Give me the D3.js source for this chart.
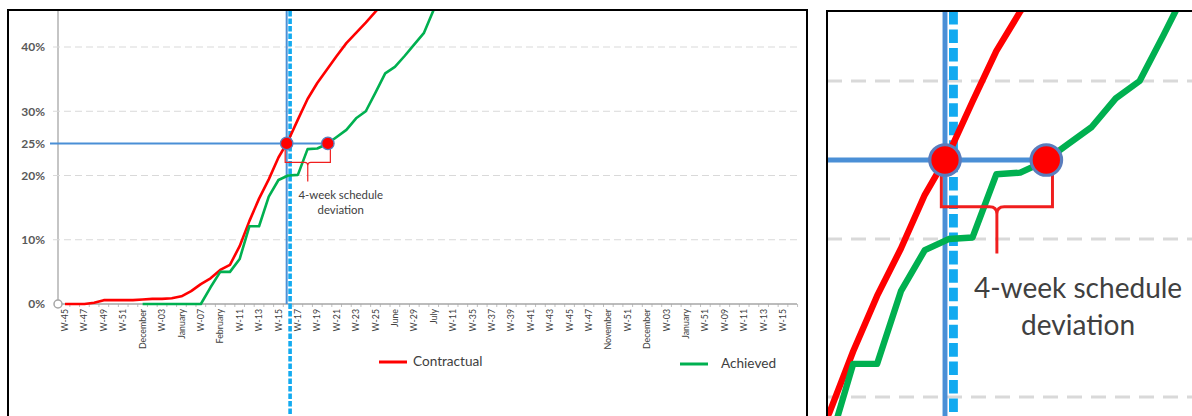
<!DOCTYPE html>
<html>
<head>
<meta charset="utf-8">
<script src="https://cdn.jsdelivr.net/npm/d3@7"></script>
<style>
  html, body { margin: 0; padding: 0; background: #fff; }
  svg { display: block; }
  text { font-family: Lato, "Open Sans", sans-serif; }
</style>
</head>
<body>
<svg id="chart" width="1192" height="416"></svg>
<script>
// Category axis: one label every second week
const weekLabels = ["W-45","W-47","W-49","W-51","December","W-03","January","W-07","February",
  "W-11","W-13","W-15","W-17","W-19","W-21","W-23","W-25","June","W-29","July","W-11","W-35",
  "W-37","W-39","W-41","W-43","W-45","W-47","November","W-51","December","W-03","January",
  "W-51","W-09","W-11","W-13","W-15"];

// Cumulative progress (%), one value per week from week index 0
const contractual = [0,0,0,0.2,0.6,0.6,0.6,0.6,0.7,0.8,0.8,0.9,1.2,2.0,3.1,4.0,5.3,6.1,9.0,
  12.9,16.4,19.4,22.8,25.4,28.7,31.9,34.4,36.5,38.6,40.6,42.2,43.8,45.5,47.2];

// Achieved progress is reported from week index 8 onwards
const achievedFirstWeek = 8;
const achieved = [0,0,0,0,0,0,0,2.6,5.0,5.0,7.0,12.1,12.1,16.7,19.3,20.0,20.1,24.1,24.2,24.9,
  26.0,27.1,28.9,30.0,32.9,35.9,36.9,38.6,40.4,42.2,45.8,49.0];

// Value axis
const yTicks = [0, 10, 20, 25, 30, 40];
const gridLevels = [10, 20, 30, 40];
const targetLevel = 25;      // progress level compared between the two curves
const statusWeek = 23.2;     // status date

const seriesRed = contractual.map((v, i) => ({ week: i, value: v }));
const seriesGreen = achieved.map((v, i) => ({ week: achievedFirstWeek + i, value: v }));

// Week (fractional) where a series first reaches a level
function crossing(series, level) {
  for (let i = 0; i < series.length - 1; i++) {
    const a = series[i], b = series[i + 1];
    if (a.value < level && b.value >= level) {
      return a.week + (level - a.value) / (b.value - a.value) * (b.week - a.week);
    }
  }
  return null;
}
const redCross = crossing(seriesRed, targetLevel);
const greenCross = crossing(seriesGreen, targetLevel);
const deviationWeeks = Math.round(greenCross - redCross);

const svg = d3.select("#chart");
const defs = svg.append("defs");

// ---------- main chart ----------
const plot = { left: 58, right: 797, top: 11, bottom: 304 };
const x = d3.scaleLinear().domain([0, (weekLabels.length - 1) * 2]).range([65, 783]);
const y = d3.scaleLinear().domain([0, 40]).range([plot.bottom, 47]);

defs.append("clipPath").attr("id", "clipMain").append("rect")
  .attr("x", plot.left).attr("y", plot.top)
  .attr("width", plot.right - plot.left).attr("height", 416 - plot.top);

const main = svg.append("g");

// panel frame
main.append("rect").attr("x", 8).attr("y", 10).attr("width", 799).attr("height", 430)
  .attr("fill", "#fff").attr("stroke", "#000").attr("stroke-width", 2);

// y axis labels
main.selectAll(".ylab").data(yTicks).join("text")
  .attr("x", 45).attr("y", d => y(d)).attr("dy", "0.36em")
  .attr("text-anchor", "end").attr("font-size", 12).attr("font-weight", "bold")
  .attr("fill", "#595959").text(d => d + "%");

// axes lines
main.append("line").attr("x1", plot.left).attr("x2", plot.left)
  .attr("y1", plot.top).attr("y2", plot.bottom).attr("stroke", "#a6a6a6").attr("stroke-width", 1.3);

const xAxis = main.append("g");
xAxis.selectAll(".tick").data(d3.range(0, (weekLabels.length - 1) * 2 + 2)).join("line")
  .attr("x1", d => x(d + 0.5)).attr("x2", d => x(d + 0.5))
  .attr("y1", plot.bottom).attr("y2", plot.bottom + 3)
  .attr("stroke", "#bfbfbf").attr("stroke-width", 1);
xAxis.append("line").attr("x1", plot.left).attr("x2", plot.right)
  .attr("y1", plot.bottom).attr("y2", plot.bottom).attr("stroke", "#a6a6a6").attr("stroke-width", 1.6);
xAxis.selectAll(".xlab").data(weekLabels).join("text")
  .attr("transform", (d, i) => `translate(${x(i * 2)},${plot.bottom + 5}) rotate(-90)`)
  .attr("dy", "0.35em").attr("text-anchor", "end")
  .attr("font-size", 8.8).attr("fill", "#404040").text(d => d);

// ---------- shared drawing of the progress curves and the deviation markup ----------
function drawLayer(g, xs, ys, k, box, clipId) {
  // dashed gridlines
  g.selectAll(".grid").data(gridLevels).join("line")
    .attr("x1", box.gridLeft).attr("x2", box.right)
    .attr("y1", d => ys(d)).attr("y2", d => ys(d))
    .attr("stroke", "#d9d9d9").attr("stroke-width", 1.2 * k)
    .attr("stroke-dasharray", k > 1 ? "15,9" : "7,4");

  // level line and its projection
  g.append("line").attr("x1", box.hLeft).attr("x2", xs(greenCross))
    .attr("y1", ys(targetLevel)).attr("y2", ys(targetLevel))
    .attr("stroke", "#4a8fd6").attr("stroke-width", 2 * k);
  g.append("line").attr("x1", xs(redCross)).attr("x2", xs(redCross))
    .attr("y1", box.top).attr("y2", box.vBottom)
    .attr("stroke", "#4a8fd6").attr("stroke-width", 2 * k);

  // status date
  g.append("line").attr("x1", xs(statusWeek)).attr("x2", xs(statusWeek))
    .attr("y1", box.top).attr("y2", box.bottom)
    .attr("stroke", "#12aaf0").attr("stroke-width", 3.6 * k)
    .attr("stroke-dasharray", `${5.5 * k},${2 * k}`);

  // curves
  const line = d3.line().x(d => xs(d.week)).y(d => ys(d.value));
  const curves = g.append("g").attr("clip-path", `url(#${clipId})`);
  curves.append("path").datum(seriesRed).attr("d", line)
    .attr("fill", "none").attr("stroke", "#ff0000").attr("stroke-width", 2.6 * k)
    .attr("stroke-linejoin", "round");
  curves.append("path").datum(seriesGreen).attr("d", line)
    .attr("fill", "none").attr("stroke", "#00b050").attr("stroke-width", 2.6 * k)
    .attr("stroke-linejoin", "round");

  // deviation brace
  const bx1 = xs(redCross) - 1.5 * k, bx2 = xs(greenCross) + 2.5 * k;
  const yTop = ys(targetLevel) + 3 * k, yBar = ys(targetLevel) + 19 * k, yTip = yBar + 19 * k;
  const cx = (bx1 + bx2) / 2, c = 3 * k;
  g.append("path")
    .attr("d", `M${bx1},${yTop}V${yBar}H${cx - c}Q${cx},${yBar} ${cx},${yBar + c}V${yTip}` +
               `M${bx2},${yTop}V${yBar}H${cx + c}Q${cx},${yBar} ${cx},${yBar + c}`)
    .attr("fill", "none").attr("stroke", "#f01e1e").attr("stroke-width", 1.2 * k);

  // points where each curve reaches the level
  g.selectAll(".dot").data([redCross, greenCross]).join("circle")
    .attr("cx", d => xs(d)).attr("cy", ys(targetLevel)).attr("r", 6.2 * k)
    .attr("fill", "#ff0000").attr("stroke", "#5a7dbd").attr("stroke-width", 1.3 * k);

  // annotation
  const t = g.append("text").attr("text-anchor", "middle")
    .attr("font-size", 11.4 * k).attr("fill", "#404040");
  t.append("tspan").attr("x", cx + 33 * k).attr("y", yTip + 14 * k).attr("dy", "0.35em")
    .text(`${deviationWeeks}-week schedule`);
  t.append("tspan").attr("x", cx + 33 * k).attr("y", yTip + 29 * k).attr("dy", "0.35em")
    .text("deviation");
}

drawLayer(main.append("g"), x, y, 1,
  { gridLeft: 53, right: plot.right, hLeft: 50, top: plot.top, vBottom: plot.bottom, bottom: 416 },
  "clipMain");

// origin marker
main.append("circle").attr("cx", plot.left).attr("cy", plot.bottom).attr("r", 4)
  .attr("fill", "#fff").attr("stroke", "#a6a6a6").attr("stroke-width", 1.5);

// legend
const legend = main.append("g");
const legendItems = [
  { name: "Contractual", color: "#ff0000", x0: 379, y0: 362 },
  { name: "Achieved", color: "#00b050", x0: 680, y0: 364 }
];
legendItems.forEach(it => {
  legend.append("line").attr("x1", it.x0).attr("x2", it.x0 + 28)
    .attr("y1", it.y0).attr("y2", it.y0).attr("stroke", it.color).attr("stroke-width", 3);
  legend.append("text").attr("x", it.x0 + (it.name === "Achieved" ? 41 : 34)).attr("y", it.y0 - 1)
    .attr("dy", "0.35em").attr("font-size", 13.6).attr("fill", "#404040").text(it.name);
});

// ---------- magnified view around the crossing ----------
const zoomK = 2.46;
const inset = { left: 827, top: 11, right: 1192, bottom: 416, cx: 945, cy: 160 };
const px = x(redCross), py = y(targetLevel);
const xi = x.copy().range(x.range().map(r => inset.cx + (r - px) * zoomK));
const yi = y.copy().range(y.range().map(r => inset.cy + (r - py) * zoomK));

defs.append("clipPath").attr("id", "clipInset").append("rect")
  .attr("x", inset.left + 1).attr("y", inset.top + 1)
  .attr("width", inset.right - inset.left).attr("height", inset.bottom - inset.top);

const ins = svg.append("g");
ins.append("rect").attr("x", inset.left).attr("y", inset.top)
  .attr("width", 400).attr("height", 430)
  .attr("fill", "#fff").attr("stroke", "#000").attr("stroke-width", 2);
drawLayer(ins.append("g").attr("clip-path", "url(#clipInset)"), xi, yi, zoomK,
  { gridLeft: inset.left, right: inset.right, hLeft: inset.left, top: inset.top,
    vBottom: inset.bottom, bottom: inset.bottom },
  "clipInset");
</script>
</body>
</html>
